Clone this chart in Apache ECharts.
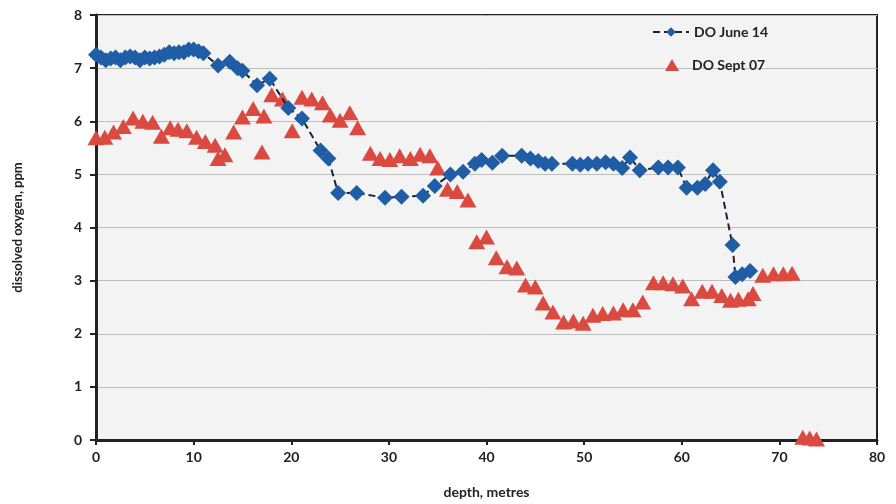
<!DOCTYPE html>
<html>
<head>
<meta charset="utf-8">
<script src="https://cdn.jsdelivr.net/npm/echarts@6/dist/echarts.min.js"></script>
<style>
  html, body { margin: 0; padding: 0; background: #fff; }
  #chart { width: 896px; height: 504px; }
</style>
</head>
<body>
<div id="chart"></div>
<script>
// DO June 14 (depth, value)
const depthJune = [0, 0.5, 1, 1.5, 2, 2.5, 3, 3.5, 4, 4.5, 5, 5.5, 6, 6.5, 7, 7.5, 8, 8.5, 9, 9.5, 10, 10.5, 11,
  12.5, 13.7, 14.5, 15, 16.5, 17.8, 19.7, 21.1, 23, 23.8, 24.8, 26.7, 29.6, 31.3, 33.5, 34.7,
  36.3, 37.6, 38.8, 39.5, 40.6, 41.6, 43.6, 44.5, 45.3, 46, 46.7, 48.8, 49.6, 50.4, 51.3, 52.2,
  53, 53.9, 54.7, 55.7, 57.6, 58.6, 59.6, 60.5, 61.6, 62.4, 63.2, 63.9, 65.2, 65.5, 66.2, 67]
const doJune = [7.25, 7.2, 7.15, 7.18, 7.2, 7.15, 7.2, 7.22, 7.2, 7.15, 7.2, 7.18, 7.2, 7.22, 7.25, 7.3, 7.28, 7.3, 7.3, 7.35, 7.35, 7.32, 7.28,
  7.05, 7.12, 7.0, 6.95, 6.68, 6.8, 6.25, 6.05, 5.45, 5.3, 4.65, 4.65, 4.56, 4.58, 4.6, 4.78,
  5.0, 5.05, 5.2, 5.27, 5.22, 5.35, 5.35, 5.3, 5.25, 5.2, 5.2, 5.2, 5.18, 5.2, 5.2, 5.23,
  5.2, 5.12, 5.32, 5.08, 5.13, 5.13, 5.13, 4.75, 4.75, 4.82, 5.08, 4.86, 3.67, 3.07, 3.12, 3.18]

// DO Sept 07 (depth, value)
const depthSept = [0, 0.9, 1.8, 2.8, 3.8, 4.8, 5.8, 6.7, 7.6, 8.4, 9.3, 10.3, 11.2, 12.2, 12.5, 13.2, 14.1, 15, 16.1, 17, 17.2,
  18, 19.1, 20.1, 21.1, 22.1, 23.2, 24, 25, 26, 26.8, 28.1, 29.1, 30.1, 31.1, 32.2, 33.2, 34.2, 35, 36, 37, 38.1,
  39, 40, 41, 42.1, 43.1, 44, 45, 45.8, 46.8, 47.9, 48.9, 49.9, 50.9, 51.9, 53, 54, 55, 56,
  57.1, 58.1, 59.1, 60.1, 61, 62.1, 63.1, 64.1, 65, 65.8, 66.8, 67.3, 68.3, 69.4, 70.4, 71.3, 72.4, 73.1, 73.8]
const doSept = [5.69, 5.7, 5.8, 5.9, 6.06, 6.0, 5.98, 5.72, 5.88, 5.85, 5.82, 5.7, 5.62, 5.55, 5.3, 5.37, 5.8, 6.08, 6.24, 5.42, 6.1,
  6.5, 6.42, 5.82, 6.45, 6.42, 6.35, 6.12, 6.02, 6.16, 5.88, 5.4, 5.3, 5.28, 5.35, 5.3, 5.38, 5.35, 5.12, 4.72, 4.68, 4.52,
  3.73, 3.82, 3.43, 3.26, 3.24, 2.92, 2.88, 2.58, 2.41, 2.22, 2.24, 2.2, 2.35, 2.38, 2.39, 2.45, 2.45, 2.6,
  2.96, 2.96, 2.94, 2.9, 2.66, 2.8, 2.8, 2.72, 2.63, 2.65, 2.66, 2.76, 3.1, 3.13, 3.13, 3.14, 0.05, 0.04, 0.02]

const xTicks = [0, 10, 20, 30, 40, 50, 60, 70, 80]
const yTicks = [0, 1, 2, 3, 4, 5, 6, 7, 8]

const font = 'Lato, "Open Sans", sans-serif'
const legendText = { fontFamily: font, fontWeight: 'bold', fontSize: 14, color: '#222' }

function pairs(xs, ys) {
  return xs.map((x, i) => [x, ys[i]])
}

const chart = echarts.init(document.getElementById('chart'))
chart.setOption({
  animation: false,
  backgroundColor: '#fff',
  textStyle: { fontFamily: font },
  grid: {
    left: 96, right: 19, top: 15, bottom: 64,
    show: true,
    backgroundColor: '#f3f3f3',
    borderColor: '#222',
    borderWidth: 2
  },
  // two legends so the triangle icon stays small while texts line up
  legend: [
    {
      left: 647, top: 20,
      itemWidth: 36, itemHeight: 12,
      textStyle: legendText,
      data: ['DO June 14']
    },
    {
      left: 660, top: 53,
      itemWidth: 14, itemHeight: 12,
      textStyle: Object.assign({ padding: [0, 0, 0, 8] }, legendText),
      data: ['DO Sept 07']
    }
  ],
  xAxis: {
    type: 'value',
    min: xTicks[0], max: xTicks[xTicks.length - 1], interval: 10,
    name: 'depth, metres',
    nameLocation: 'middle', nameGap: 45,
    nameTextStyle: { fontFamily: font, fontWeight: 'bold', fontSize: 14, color: '#222' },
    axisLine: { lineStyle: { color: '#222', width: 3 } },
    axisTick: { show: true, length: 5, lineStyle: { color: '#222', width: 2 } },
    axisLabel: { fontFamily: font, fontWeight: 'bold', fontSize: 14, color: '#222', margin: 10 },
    splitLine: { show: false }
  },
  yAxis: {
    type: 'value',
    min: yTicks[0], max: yTicks[yTicks.length - 1], interval: 1,
    name: 'dissolved oxygen, ppm',
    nameLocation: 'middle', nameGap: 72,
    nameTextStyle: { fontFamily: font, fontWeight: 'bold', fontSize: 13, color: '#222' },
    axisLine: { show: true, lineStyle: { color: '#222', width: 3 } },
    axisTick: { show: true, length: 6, lineStyle: { color: '#222', width: 2 } },
    axisLabel: { fontFamily: font, fontWeight: 'bold', fontSize: 14, color: '#222', margin: 14 },
    splitLine: { show: true, lineStyle: { color: '#bdbdbd', width: 1 } }
  },
  series: [
    {
      name: 'DO June 14',
      type: 'line',
      data: pairs(depthJune, doJune),
      symbol: 'diamond',
      symbolSize: 16,
      showAllSymbol: true,
      itemStyle: { color: '#1f5da6' },
      lineStyle: { color: '#1c2233', width: 2, type: [7, 4] },
      z: 3
    },
    {
      name: 'DO Sept 07',
      type: 'scatter',
      data: pairs(depthSept, doSept),
      symbol: 'triangle',
      symbolSize: [17, 15],
      itemStyle: { color: '#da4a40', opacity: 1 },
      z: 2
    }
  ]
})
</script>
</body>
</html>
